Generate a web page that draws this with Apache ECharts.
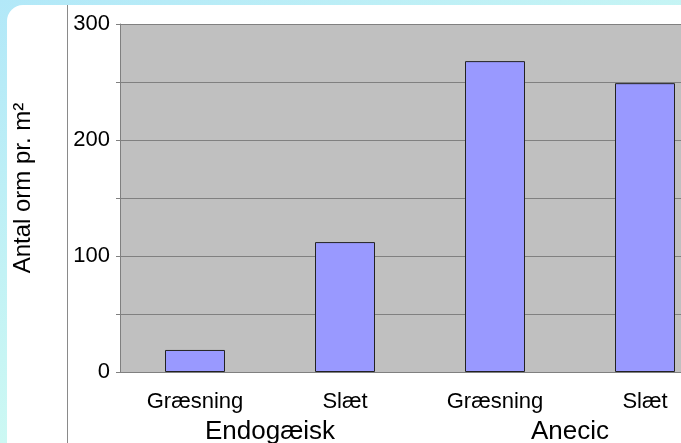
<!DOCTYPE html>
<html>
<head>
<meta charset="utf-8">
<script src="https://cdn.jsdelivr.net/npm/echarts@6/dist/echarts.min.js"></script>
<style>html,body{margin:0;padding:0;background:#fff;overflow:hidden;width:681px;height:443px}#c{width:720px;height:443px}</style>
</head>
<body>
<div id="c"></div>
<script>
const categories = ['Græsning', 'Slæt', 'Græsning', 'Slæt'];
const groups = ['Endogæisk', 'Anecic'];
const values = [19, 112, 268, 249];
const yTicks = [0, 100, 200, 300];
const yTitle = 'Antal orm pr. m²';

const chart = echarts.init(document.getElementById('c'), null, {renderer: 'canvas'});
const font = '"Liberation Sans", Arial, sans-serif';
chart.setOption({
  animation: false,
  graphic: [
    {type: 'rect', z: -100, silent: true, shape: {x: 0, y: 0, width: 720, height: 443},
     style: {fill: new echarts.graphic.LinearGradient(0, 0, 0.3, 1, [
       {offset: 0, color: '#b2e8f8'}, {offset: 1, color: '#d2fcf2'}])}},
    {type: 'rect', z: -99, silent: true, shape: {x: 7, y: 5, width: 740, height: 460, r: [16, 0, 0, 0]},
     style: {fill: '#ffffff'}},
    {type: 'line', z: -98, silent: true, shape: {x1: 67.5, y1: 5, x2: 67.5, y2: 443},
     style: {stroke: '#8a8a8a', lineWidth: 1}},
    {type: 'text', z: 10, silent: true,
     x: 23, y: 188, rotation: Math.PI / 2,
     style: {text: yTitle, fontSize: 24, fontFamily: font, fill: '#000', align: 'center', verticalAlign: 'middle'}}
  ],
  grid: {left: 120, top: 24, right: 0, bottom: 71, outerBoundsMode: 'none', containLabel: false,
         show: true, backgroundColor: '#c0c0c0', borderWidth: 0},
  xAxis: [
    {type: 'category', data: categories, position: 'bottom',
     axisLine: {show: true, lineStyle: {color: '#808080', width: 1}},
     axisTick: {show: false},
     axisLabel: {color: '#000', fontFamily: font, fontSize: 22, margin: 19}},
    {type: 'category', data: groups, position: 'bottom', offset: 0,
     axisLine: {show: false}, axisTick: {show: false},
     axisLabel: {color: '#000', fontFamily: font, fontSize: 26, margin: 47}}
  ],
  yAxis: {
    type: 'value', min: 0, max: 300, interval: 50,
    axisLine: {show: true, lineStyle: {color: '#808080', width: 1}},
    axisTick: {show: true, length: 4, inside: false, lineStyle: {color: '#808080'}},
    splitLine: {show: true, lineStyle: {color: '#808080', width: 1}},
    axisLabel: {color: '#000', fontFamily: font, fontSize: 22, margin: 10,
      formatter: v => (yTicks.indexOf(v) >= 0 ? String(v) : '')}
  },
  series: [{
    type: 'bar', xAxisIndex: 0, data: values, barWidth: 60,
    itemStyle: {color: '#9999ff', borderColor: '#222222', borderWidth: 1}
  }]
});
</script>
</body>
</html>
